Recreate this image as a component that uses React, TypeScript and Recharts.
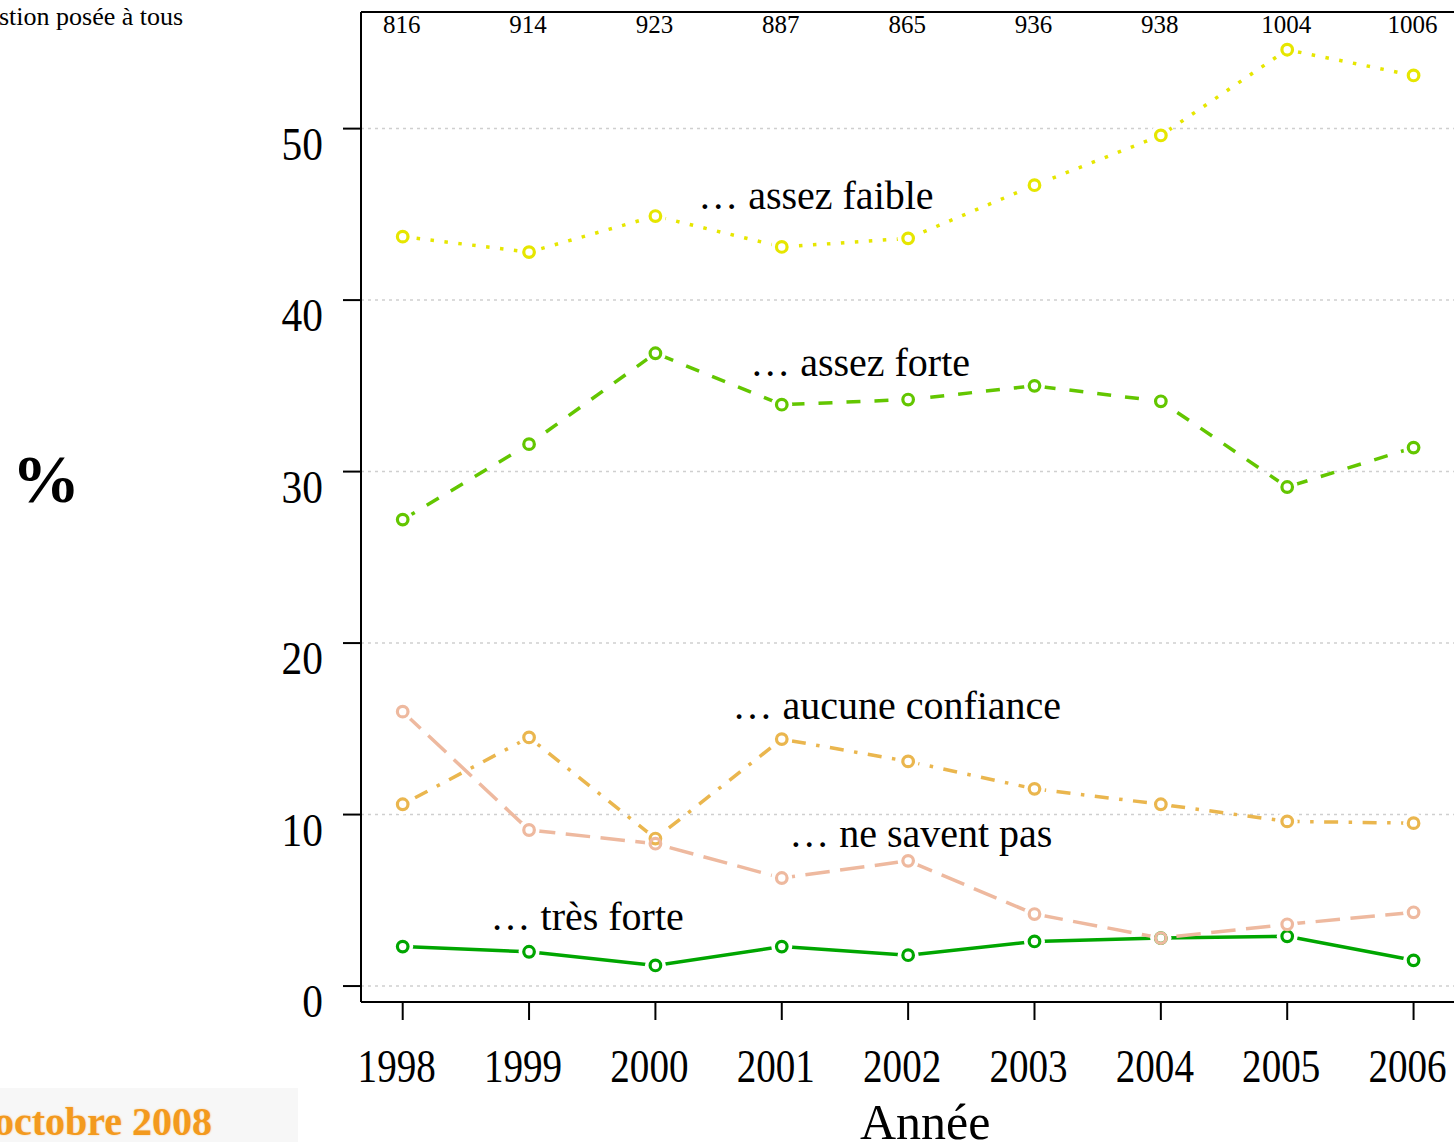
import React from 'react'
import {
  LineChart, Line, XAxis, YAxis, CartesianGrid, ReferenceDot,
} from 'recharts'

const YEARS = [1998, 1999, 2000, 2001, 2002, 2003, 2004, 2005, 2006]
const COUNTS = [816, 914, 923, 887, 865, 936, 938, 1004, 1006]

const TRES_FORTE = [2.3, 2.0, 1.2, 2.3, 1.8, 2.6, 2.8, 2.9, 1.5]
const ASSEZ_FORTE = [27.2, 31.6, 36.9, 33.9, 34.2, 35.0, 34.1, 29.1, 31.4]
const ASSEZ_FAIBLE = [43.7, 42.8, 44.9, 43.1, 43.6, 46.7, 49.6, 54.6, 53.1]
const AUCUNE = [10.6, 14.5, 8.6, 14.4, 13.1, 11.5, 10.6, 9.6, 9.5]
const NE_SAVENT_PAS = [16.0, 9.1, 8.3, 6.3, 7.3, 4.2, 2.8, 3.6, 4.3]

const Y_TICKS = [0, 10, 20, 30, 40, 50]

// terrain.colors(6) de R, un type de trait par série
const SERIES = [
  { key: 'tresForte', color: '#00A600', dash: undefined },
  { key: 'assezForte', color: '#63C600', dash: '14 14' },
  { key: 'assezFaible', color: '#E6E600', dash: '3.5 10.5' },
  { key: 'aucune', color: '#EAB64E', dash: '3.5 10.5 14 10.5' },
  { key: 'nsp', color: '#EEB99F', dash: '24.5 10.5' },
]

// étiquettes posées dans le repère des données
const ANNOTATIONS = [
  { text: '… assez faible', x: 2001.27, y: 46.15 },
  { text: '… assez forte', x: 2001.62, y: 36.4 },
  { text: '… aucune confiance', x: 2001.91, y: 16.4 },
  { text: '… ne savent pas', x: 2002.1, y: 8.93 },
  { text: '… très forte', x: 1999.46, y: 4.08 },
]

const data = YEARS.map((year, i) => ({
  year,
  tresForte: TRES_FORTE[i],
  assezForte: ASSEZ_FORTE[i],
  assezFaible: ASSEZ_FAIBLE[i],
  aucune: AUCUNE[i],
  nsp: NE_SAVENT_PAS[i],
}))

const FONT = '"Liberation Serif", "DejaVu Serif", serif'
const X_DOMAIN = [1997.67, 2006.32]
const Y_DOMAIN = [-0.93, 56.8]

function YTick({ x, y, payload }: any) {
  return (
    <g transform={`translate(${x},${y})`}>
      <text transform="scale(0.9,1)" y={31} textAnchor="end" fontSize={46} fontFamily={FONT} fill="#000">
        {payload.value}
      </text>
    </g>
  )
}

function XTick({ x, y, payload }: any) {
  return (
    <g transform={`translate(${x - 6},${y})`}>
      <text transform="scale(0.85,1)" y={62} textAnchor="middle" fontSize={46} fontFamily={FONT} fill="#000">
        {payload.value}
      </text>
    </g>
  )
}

function CountTick({ x, y, payload }: any) {
  const i = YEARS.indexOf(payload.value)
  return (
    <text x={x - 1} y={y + 21} textAnchor="middle" fontSize={25} fontFamily={FONT} fill="#000">
      {COUNTS[i]}
    </text>
  )
}

function Halo({ cx, cy }: any) {
  if (cx == null || cy == null) return null
  return <circle cx={cx} cy={cy} r={10.5} fill="#fff" stroke="none" />
}

function ringFor(color: string) {
  return ({ cx, cy }: any) => {
    if (cx == null || cy == null) return null
    return <circle cx={cx} cy={cy} r={5.3} fill="none" stroke={color} strokeWidth={3.2} />
  }
}

export default function App() {
  return (
    <div style={{ position: 'absolute', left: 0, top: 0, width: 1454, height: 1142, background: '#fff', overflow: 'hidden', fontFamily: FONT }}>
      <div style={{ position: 'absolute', left: -1, top: 2, fontSize: 26, lineHeight: '30px', color: '#000', whiteSpace: 'nowrap' }}>
        stion posée à tous
      </div>
      <div style={{ position: 'absolute', left: 12, top: 442, fontSize: 68, fontWeight: 'bold', lineHeight: '74px', color: '#000' }}>
        %
      </div>
      <div style={{ position: 'absolute', left: 0, top: 1088, width: 298, height: 54, background: '#f7f7f7' }} />
      <div style={{ position: 'absolute', left: -6, top: 1099, fontSize: 40, fontWeight: 'bold', lineHeight: '46px', color: '#F39A1E', whiteSpace: 'nowrap', textShadow: '0 0 2px #f8c98a' }}>
        octobre 2008
      </div>

      <LineChart
        width={1454}
        height={1142}
        data={data}
        margin={{ top: 0, right: 0, bottom: 0, left: 0 }}
        style={{ position: 'absolute', left: 0, top: 0 }}
      >
        <CartesianGrid horizontal vertical={false} stroke="#cfcfcf" strokeDasharray="3 4" strokeWidth={1.5} />
        <XAxis
          dataKey="year"
          type="number"
          domain={X_DOMAIN}
          ticks={YEARS}
          allowDataOverflow
          height={140}
          tickSize={18}
          tickMargin={0}
          axisLine={{ stroke: '#000', strokeWidth: 2 }}
          tickLine={{ stroke: '#000', strokeWidth: 2 }}
          tick={<XTick />}
          interval={0}
        />
        <XAxis
          xAxisId="top"
          orientation="top"
          dataKey="year"
          type="number"
          domain={X_DOMAIN}
          ticks={YEARS}
          allowDataOverflow
          height={12}
          tickSize={0}
          tickMargin={0}
          axisLine={{ stroke: '#000', strokeWidth: 2 }}
          tickLine={false}
          tick={<CountTick />}
          interval={0}
        />
        <YAxis
          type="number"
          domain={Y_DOMAIN}
          ticks={Y_TICKS}
          allowDataOverflow
          width={361}
          tickSize={18}
          tickMargin={20}
          axisLine={{ stroke: '#000', strokeWidth: 2 }}
          tickLine={{ stroke: '#000', strokeWidth: 2 }}
          tick={<YTick />}
          interval={0}
        />

        {SERIES.map((s) => (
          <Line
            key={`line-${s.key}`}
            dataKey={s.key}
            stroke={s.color}
            strokeWidth={3.5}
            strokeDasharray={s.dash}
            dot={false}
            activeDot={false}
            isAnimationActive={false}
          />
        ))}
        {SERIES.map((s) => (
          <Line
            key={`halo-${s.key}`}
            dataKey={s.key}
            stroke="none"
            dot={<Halo />}
            activeDot={false}
            isAnimationActive={false}
          />
        ))}
        {SERIES.map((s) => {
          const Ring = ringFor(s.color)
          return (
            <Line
              key={`ring-${s.key}`}
              dataKey={s.key}
              stroke="none"
              dot={<Ring />}
              activeDot={false}
              isAnimationActive={false}
            />
          )
        })}

        {ANNOTATIONS.map((a) => (
          <ReferenceDot
            key={a.text}
            x={a.x}
            y={a.y}
            r={0}
            fill="none"
            stroke="none"
            label={{ value: a.text, position: 'center', fontSize: 40, fontFamily: FONT, fill: '#000' }}
          />
        ))}
      </LineChart>

      <div style={{ position: 'absolute', left: 860, top: 1094, fontSize: 50, lineHeight: '56px', color: '#000', whiteSpace: 'nowrap' }}>
        Année
      </div>
    </div>
  )
}
